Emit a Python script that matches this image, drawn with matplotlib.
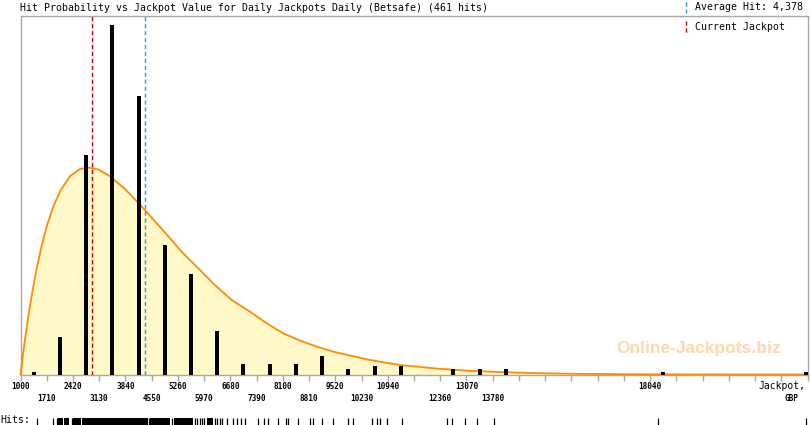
import matplotlib
matplotlib.use("Agg")
import matplotlib.pyplot as plt
from matplotlib.lines import Line2D
import matplotlib.transforms as mtransforms

# hits histogram (bin centres, 710 wide bins starting at 1000)
bar_x = [1355, 2065, 2775, 3485, 4195, 4905, 5615, 6325, 7035, 7745, 8455,
         9165, 9875, 10585, 11295, 12715, 13425, 14135, 18395, 22250]
bar_hits = [1, 14, 81, 129, 103, 48, 37, 16, 4, 4, 4,
            7, 2, 3, 3, 2, 2, 2, 1, 1]

curve_x = [1000, 1050, 1120, 1200, 1300, 1420, 1560, 1710, 1900, 2100,
           2350, 2600, 2830, 3100, 3400, 3800, 4200, 4600, 5000, 5365,
           5815, 6267, 6719, 7215, 7667, 8117, 8569, 9021, 9471, 9924,
           10375, 10825, 11277, 11729, 12179, 13083, 13985, 14797, 16286,
           18047, 22300]
curve_y = [0, 5.5, 12.8, 20.4, 28.9, 38.0, 46.9, 54.8, 62.5, 68.5,
           73.4, 75.9, 76.5, 75.8, 73.5, 68.9, 63.3, 57.2, 51.1, 45.3,
           39.2, 33.0, 27.5, 23.2, 18.9, 15.2, 12.5, 10.3, 8.4, 7.0,
           5.6, 4.5, 3.5, 2.9, 2.3, 1.4, 0.9, 0.55, 0.2,
           0.07, 0.02]

current_jackpot = 2944
average_hit = 4378

tick_labels = [1000, 1710, 2420, 3130, 3840, 4550, 5260, 5970, 6680, 7390,
               8100, 8810, 9520, 10230, 10940, 12360, 13070, 13780, 18040]

# hit rug: single hits and solid runs of hits
rug_hits = [1447, 1880, 1988, 2395, 4480, 5103, 5725, 5780, 5861, 5915, 5969,
            6267, 6321, 6402, 6457, 6592, 6755, 6863, 6971, 7079, 7431, 7594,
            7702, 7973, 8190, 8244, 8515, 8840, 8921, 9165, 9463, 9869, 10004,
            10519, 10654, 10735, 10925, 11331, 12550, 12685, 13037, 13362,
            13822, 18264, 22271]
rug_runs = [(2016, 2151), (2178, 2313), (2422, 2638), (2665, 4453),
            (4507, 5049), (5157, 5671), (6050, 6213)]

W, H = 810, 425
xmin, xmax = 1000, 22300
grey = "#A8A8A8"
mono = "DejaVu Sans Mono"

fig = plt.figure(figsize=(W / 100, H / 100), dpi=100)
left, right, top, bottom = 20.5, 807.5, 16, 374.5
ax = fig.add_axes([left / W, 1 - bottom / H, (right - left) / W, (bottom - top) / H])

ax.fill_between(curve_x, curve_y, 0, color="#FFF8C8", lw=0, zorder=1)
ax.plot(curve_x, curve_y, color="#FF8C00", lw=1.3, zorder=2.6, clip_on=False)
ax.bar(bar_x, bar_hits, width=108, color="black", zorder=3)
ax.axvline(current_jackpot, color="#CC0000", lw=1, ls=(0, (3, 2)), zorder=2.8)
ax.axvline(average_hit, color="#3399CC", lw=1, ls=(0, (3, 2)), zorder=2.8)

ax.set_xlim(xmin, xmax)
ax.set_ylim(0, 132.5)
ax.set_yticks([])
for s in ax.spines.values():
    s.set_color(grey)
    s.set_linewidth(1)
ax.set_xticks(range(xmin, xmax + 1, 710))
ax.set_xticklabels([])
ax.tick_params(axis="x", direction="out", length=4, width=1, color=grey)

# tick labels on two alternating rows
trans = mtransforms.blended_transform_factory(ax.transData, fig.transFigure)
for i, v in enumerate(tick_labels):
    ypix = 386.5 if i % 2 == 0 else 398.5
    fig.text(v, 1 - ypix / H, str(v), transform=trans, fontsize=5.6,
             family=mono, weight="bold", ha="center", va="center")
fig.text(805 / W, 1 - 386 / H, "Jackpot,", fontsize=7, family=mono,
         ha="right", va="center")
fig.text(798 / W, 1 - 398.5 / H, "GBP", fontsize=5.6, family=mono,
         weight="bold", ha="right", va="center")

# title and legend
fig.text(20 / W, 1 - 8 / H, "Hit Probability vs Jackpot Value for Daily Jackpots "
         "Daily (Betsafe) (461 hits)", fontsize=7.1, family=mono, va="center")
fig.add_artist(Line2D([686 / W, 686 / W], [1 - 2 / H, 1 - 13 / H],
                      color="#3399CC", lw=1, ls=(0, (3, 2))))
fig.text(695 / W, 1 - 7 / H, "Average Hit: 4,378", fontsize=7.1, family=mono,
         va="center")
fig.add_artist(Line2D([686 / W, 686 / W], [1 - 21 / H, 1 - 33 / H],
                      color="#CC0000", lw=1, ls=(0, (3, 2))))
fig.text(695 / W, 1 - 27 / H, "Current Jackpot", fontsize=7.1, family=mono,
         va="center")

# watermark
fig.text(699 / W, 1 - 348 / H, "Online-Jackpots.biz", fontsize=12.5,
         family="Liberation Sans", weight="bold", color="#FFD7A8",
         ha="center", va="center", zorder=0.5)

# hits rug
rug = fig.add_axes([left / W, 1 - 424.5 / H, (right - left) / W, 7 / H])
rug.set_xlim(xmin, xmax)
rug.set_ylim(0, 1)
rug.axis("off")
rug.vlines(rug_hits, 0, 1, color="black", lw=0.9)
for a, b in rug_runs:
    rug.axvspan(a, b, color="black", lw=0)
fig.text(0, 1 - 420 / H, "Hits:", fontsize=7.1, family=mono, va="center")

fig.savefig("out.png", dpi=100)
